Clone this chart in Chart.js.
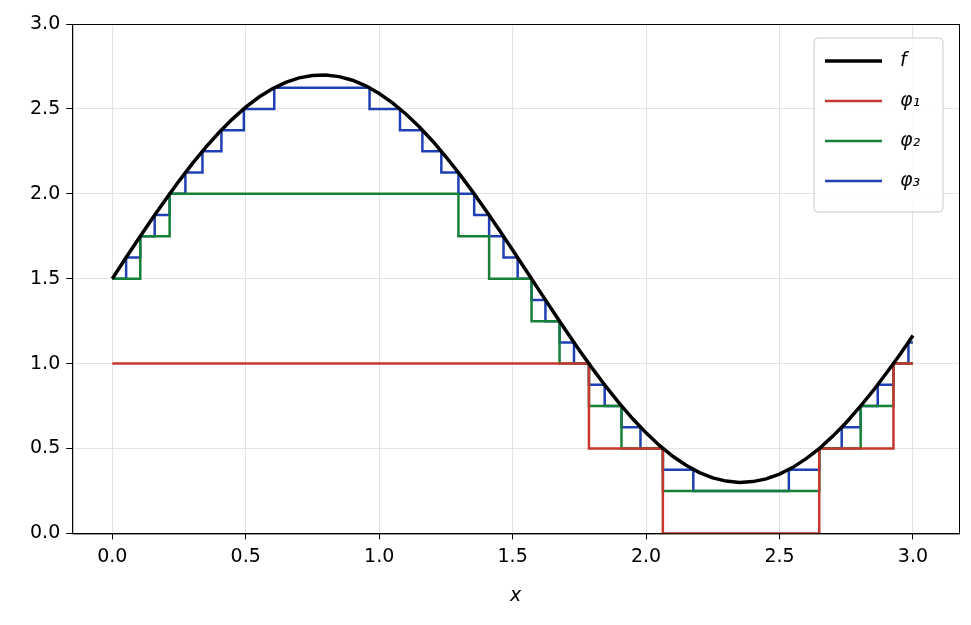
<!DOCTYPE html>
<html>
<head>
<meta charset="utf-8">
<script src="https://cdn.jsdelivr.net/npm/chart.js@4/dist/chart.umd.min.js"></script>
<style>
  body { margin: 0; background: #fff; }
  #wrap { width: 971px; height: 625px; }
</style>
</head>
<body>
<div id="wrap"><canvas id="c" width="971" height="625"></canvas></div>
<script>
// f sampled every 0.05 on [0, 3]
const fX = [0,0.05,0.1,0.15,0.2,0.25,0.3,0.35,0.4,0.45,0.5,0.55,0.6,0.65,0.7,0.75,0.8,0.85,0.9,0.95,
  1,1.05,1.1,1.15,1.2,1.25,1.3,1.35,1.4,1.45,1.5,1.55,1.6,1.65,1.7,1.75,1.8,1.85,1.9,1.95,
  2,2.05,2.1,2.15,2.2,2.25,2.3,2.35,2.4,2.45,2.5,2.55,2.6,2.65,2.7,2.75,2.8,2.85,2.9,2.95,3];
const fY = [1.5,1.62,1.738,1.855,1.967,2.075,2.178,2.273,2.361,2.44,2.51,2.57,2.618,2.656,2.683,2.697,2.7,2.69,2.669,2.636,
  2.591,2.536,2.47,2.395,2.311,2.218,2.119,2.013,1.902,1.787,1.669,1.55,1.43,1.311,1.193,1.079,0.969,0.864,0.766,0.675,
  0.592,0.518,0.454,0.401,0.358,0.327,0.308,0.3,0.305,0.321,0.349,0.389,0.44,0.501,0.573,0.653,0.743,0.839,0.943,1.051,1.165];

// step functions: x where a new level starts, and that level
const phi1X = [0, 1.786, 2.063, 2.649, 2.927, 3];
const phi1Y = [1.0, 0.5, 0, 0.5, 1.0, 1.0];
const phi2X = [0, 0.105, 0.215, 1.297, 1.412, 1.571, 1.676, 1.786, 1.908, 2.063, 2.649, 2.804, 2.927, 3];
const phi2Y = [1.5, 1.75, 2.0, 1.75, 1.5, 1.25, 1.0, 0.75, 0.5, 0.25, 0.5, 0.75, 1.0, 1.0];
const phi3X = [0, 0.052, 0.105, 0.159, 0.215, 0.274, 0.338, 0.409, 0.493, 0.607, 0.964, 1.078, 1.162, 1.233, 1.297,
  1.356, 1.412, 1.466, 1.519, 1.571, 1.623, 1.676, 1.730, 1.786, 1.845, 1.908, 1.979, 2.063, 2.177, 2.535, 2.649,
  2.733, 2.804, 2.868, 2.927, 2.983, 3];
const phi3Y = [1.5, 1.625, 1.75, 1.875, 2.0, 2.125, 2.25, 2.375, 2.5, 2.625, 2.5, 2.375, 2.25, 2.125, 2.0,
  1.875, 1.75, 1.625, 1.5, 1.375, 1.25, 1.125, 1.0, 0.875, 0.75, 0.625, 0.5, 0.375, 0.25, 0.375, 0.5,
  0.625, 0.75, 0.875, 1.0, 1.125, 1.125];

const xTicks = [0, 0.5, 1, 1.5, 2, 2.5, 3];
const yTicks = [0, 0.5, 1, 1.5, 2, 2.5, 3];

const legendItems = [
  { label: 'f', color: '#000000', width: 3.5 },
  { label: 'φ₁', color: '#c8372d', width: 2.5 },
  { label: 'φ₂', color: '#178037', width: 2.5 },
  { label: 'φ₃', color: '#1f3fb4', width: 2.5 }
];

const pts = (xs, ys) => xs.map((x, i) => ({ x: x, y: ys[i] }));
const FONT = 'DejaVu Sans';

const frame = {
  id: 'frame',
  afterDraw(chart) {
    const { ctx, chartArea: a } = chart;
    ctx.save();
    ctx.strokeStyle = '#000';
    ctx.lineWidth = 1;
    ctx.strokeRect(a.left + 0.5, a.top + 0.5, a.right - a.left, a.bottom - a.top);
    // legend box
    const bx = 814, by = 38, bw = 129, bh = 174;
    ctx.fillStyle = 'rgba(255,255,255,0.85)';
    ctx.strokeStyle = '#cccccc';
    ctx.beginPath();
    ctx.roundRect(bx, by, bw, bh, 4);
    ctx.fill(); ctx.stroke();
    legendItems.forEach((it, i) => {
      const y = by + 23 + i * 40;
      ctx.strokeStyle = it.color;
      ctx.lineWidth = it.width;
      ctx.beginPath(); ctx.moveTo(bx + 11, y); ctx.lineTo(bx + 68, y); ctx.stroke();
      ctx.fillStyle = '#000';
      ctx.font = 'italic 19px ' + FONT;
      ctx.textBaseline = 'middle';
      ctx.fillText(it.label, bx + 86, y);
    });
    ctx.restore();
  }
};

const line = (data, color, w, stepped) => ({
  data: data, borderColor: color, borderWidth: w, pointRadius: 0,
  stepped: stepped ? 'before' : false, tension: 0, fill: false
});

new Chart(document.getElementById('c'), {
  type: 'line',
  data: {
    datasets: [
      line(pts(fX, fY), '#000000', 3.5, false),
      line(pts(phi1X, phi1Y), '#c8372d', 2.5, 'after'),
      line(pts(phi2X, phi2Y), '#178037', 2.5, 'after'),
      line(pts(phi3X, phi3Y), '#1f3fb4', 2.5, 'after')
    ]
  },
  options: {
    responsive: false,
    animation: false,
    devicePixelRatio: 1,
    layout: { padding: { top: 24, right: 12, left: 24, bottom: 14 } },
    plugins: { legend: { display: false }, tooltip: { enabled: false } },
    scales: {
      x: {
        type: 'linear', min: -0.15, max: 3.1725,
        afterBuildTicks: s => { s.ticks = xTicks.map(v => ({ value: v })); },
        ticks: { font: { family: FONT, size: 19 }, color: '#000', padding: 6,
          callback: v => v.toFixed(1) },
        grid: { color: '#e3e3e3', tickColor: '#000', tickLength: 6 },
        border: { color: '#000' },
        title: { display: true, text: 'x', font: { family: FONT, size: 19, style: 'italic' }, color: '#000', padding: { top: 10 } }
      },
      y: {
        type: 'linear', min: 0, max: 3,
        afterBuildTicks: s => { s.ticks = yTicks.map(v => ({ value: v })); },
        ticks: { font: { family: FONT, size: 19 }, color: '#000', padding: 6,
          callback: v => v.toFixed(1) },
        grid: { color: '#e3e3e3', tickColor: '#000', tickLength: 6 },
        border: { color: '#000' }
      }
    }
  },
  plugins: [frame]
});
</script>
</body>
</html>
